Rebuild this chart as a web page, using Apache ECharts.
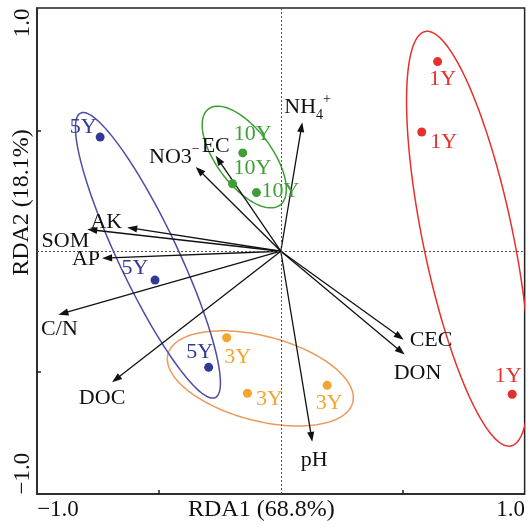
<!DOCTYPE html>
<html><head><meta charset="utf-8">
<script src="https://cdn.jsdelivr.net/npm/echarts@6/dist/echarts.min.js"></script>
<style>html,body{margin:0;padding:0;background:#fff}#c{width:528px;height:527px}</style>
</head><body><div id="c"></div>
<script>
// ---- data ----
const groupNames = ['1Y', '3Y', '5Y', '10Y'];
const x1Y = [0.643, 0.578, 0.949];
const y1Y = [0.789, 0.496, -0.595];
const x3Y = [-0.222, -0.137, 0.190];
const y3Y = [-0.360, -0.591, -0.558];
const x5Y = [-0.741, -0.516, -0.296];
const y5Y = [0.475, -0.120, -0.483];
const x10Y = [-0.156, -0.198, -0.100];
const y10Y = [0.409, 0.281, 0.244];

// confidence ellipses: centre x, centre y, semi-major, semi-minor, angle (deg)
const ellipseCx = [0.768, -0.084, -0.545, -0.150];
const ellipseCy = [0.052, -0.529, -0.017, 0.392];
const ellipseA = [0.880, 0.392, 0.653, 0.248];
const ellipseB = [0.185, 0.176, 0.122, 0.114];
const ellipseAngle = [-78.5, -15, -65, -54];

// environmental vectors
const envNames = ['NH4+', 'EC', 'NO3-', 'AK', 'SOM', 'AP', 'C/N', 'DOC', 'pH', 'CEC', 'DON'];
const envX = [0.088, -0.267, -0.349, -0.630, -0.794, -0.733, -0.912, -0.692, 0.129, 0.504, 0.508];
const envY = [0.537, 0.397, 0.351, 0.099, 0.091, -0.029, -0.264, -0.545, -0.793, -0.368, -0.430];

const axisTickValues = [-0.5, 0.5];
const axisLabelValues = [-1, 1];

// ---- styling (not data) ----
const FONT = '"Liberation Serif","Times New Roman",serif';
const groupColors = ['#e5302b', '#f3a530', '#2f3b96', '#3e9f35'];
const ellipseColors = ['#e5302b', '#ea9a5a', '#4d4da6', '#3e9f35'];
const pointLabelOffsets = [
  [[5, 18], [22, 10], [-4, -18]],
  [[11, 19], [22, 6], [2, 18]],
  [[-17, -10], [-20, -12], [-9, -15]],
  [[10, -19], [20, -15], [24, -1]]
];
const envLabelLayout = [
  [-18, -15, 'left'], [0, -10, 'center'], [4, -10, 'right'], [-5, -5, 'right'],
  [2, 12, 'right'], [-2, 1, 'right'], [1, 15, 'center'], [-10, 16, 'center'],
  [2, 18, 'center'], [6, 1, 'left'], [-11, 19, 'left']
];
const envRichText = {
  'NH4+': '{n|NH}{s|4}{p|+}',
  'NO3-': '{n|NO3}{p|\u2212}'
};

const groupX = [x1Y, x3Y, x5Y, x10Y];
const groupY = [y1Y, y3Y, y5Y, y10Y];

const scatterSeries = groupNames.map((g, gi) => ({
  type: 'scatter',
  name: g,
  z: 5,
  symbolSize: 9,
  itemStyle: { color: groupColors[gi], opacity: 1 },
  label: {
    show: true, position: 'inside', formatter: g,
    color: groupColors[gi], fontSize: 22, fontFamily: FONT
  },
  data: groupX[gi].map((x, i) => ({
    value: [x, groupY[gi][i]],
    label: { offset: pointLabelOffsets[gi][i] }
  })),
  markLine: gi === 0 ? {
    silent: true, symbol: 'none', label: { show: false },
    lineStyle: { type: [2, 2], color: '#555', width: 1 },
    data: [{ xAxis: 0 }, { yAxis: 0 }]
  } : undefined
}));

const ellipseData = ellipseCx.map((cx, i) => [cx, ellipseCy[i], ellipseA[i], ellipseB[i], ellipseAngle[i]]);

const ellipseSeries = {
  type: 'custom',
  z: 2,
  clip: true,
  data: ellipseData,
  encode: { x: 0, y: 1 },
  renderItem: function (params, api) {
    const i = params.dataIndex;
    const cx = api.value(0), cy = api.value(1), a = api.value(2), b = api.value(3);
    const th = api.value(4) * Math.PI / 180;
    const pts = [];
    for (let k = 0; k < 180; k++) {
      const t = k / 180 * Math.PI * 2;
      const ex = a * Math.cos(t), ey = b * Math.sin(t);
      pts.push(api.coord([cx + ex * Math.cos(th) - ey * Math.sin(th), cy + ex * Math.sin(th) + ey * Math.cos(th)]));
    }
    return {
      type: 'polygon',
      shape: { points: pts },
      style: { fill: 'none', stroke: ellipseColors[i], lineWidth: 1.5 }
    };
  }
};

const arrowSeries = {
  type: 'custom',
  z: 3,
  data: envX.map((x, i) => [x, envY[i]]),
  encode: { x: 0, y: 1 },
  renderItem: function (params, api) {
    const i = params.dataIndex;
    const o = api.coord([0, 0]);
    const t = api.coord([api.value(0), api.value(1)]);
    const dx = t[0] - o[0], dy = t[1] - o[1];
    const L = Math.hypot(dx, dy);
    const ux = dx / L, uy = dy / L;
    const hl = 10, hw = 3.6;
    const bx = t[0] - ux * hl, by = t[1] - uy * hl;
    const px = -uy, py = ux;
    const lay = envLabelLayout[i];
    const name = envNames[i];
    return {
      type: 'group',
      children: [
        { type: 'line', shape: { x1: o[0], y1: o[1], x2: bx + ux * 2, y2: by + uy * 2 },
          style: { stroke: '#111', lineWidth: 1.3 } },
        { type: 'polygon', shape: { points: [[t[0], t[1]], [bx + px * hw, by + py * hw], [bx - px * hw, by - py * hw]] },
          style: { fill: '#111' } },
        { type: 'text', z2: 10,
          style: {
            text: envRichText[name] || name,
            x: t[0] + lay[0], y: t[1] + lay[1],
            align: lay[2], verticalAlign: 'middle',
            fill: '#111', font: '22px ' + FONT,
            rich: {
              n: { fontSize: 22, fontFamily: FONT, fill: '#111', lineHeight: 30, verticalAlign: 'middle' },
              s: { fontSize: 14, fontFamily: FONT, fill: '#111', verticalAlign: 'bottom' },
              p: { fontSize: 14, fontFamily: FONT, fill: '#111', verticalAlign: 'top' }
            }
          } }
      ]
    };
  }
};

const axisLineStyle = { color: '#222', width: 1.5 };
const chart = echarts.init(document.getElementById('c'), null, { renderer: 'canvas' });
chart.setOption({
  animation: false,
  backgroundColor: '#fff',
  grid: { left: 37, right: 2, top: 8, bottom: 30, show: true, borderColor: '#222', borderWidth: 1.5 },
  xAxis: {
    type: 'value', min: -1, max: 1,
    name: 'RDA1 (68.8%)', nameLocation: 'middle', nameGap: 4, nameMoveOverlap: false,
    nameTextStyle: { fontFamily: FONT, fontSize: 24, color: '#111', verticalAlign: 'top', padding: [0, 39, 0, 0] },
    axisLine: { show: true, onZero: false, lineStyle: axisLineStyle },
    axisTick: { show: true, inside: true, length: 4, customValues: axisTickValues, lineStyle: axisLineStyle },
    axisLabel: {
      show: true, customValues: axisLabelValues, margin: 4, showMinLabel: true, showMaxLabel: true,
      formatter: v => v < 0 ? '{a|\u22121.0}' : '{b|1.0}',
      rich: {
        a: { fontFamily: FONT, fontSize: 23, color: '#111', padding: [0, 0, 0, 42] },
        b: { fontFamily: FONT, fontSize: 23, color: '#111', padding: [0, 28, 0, 0] }
      }
    },
    splitLine: { show: false }
  },
  yAxis: {
    type: 'value', min: -1.01, max: 1.012,
    name: 'RDA2 (18.1%)', nameLocation: 'middle', nameGap: 3, nameMoveOverlap: false,
    nameTextStyle: { fontFamily: FONT, fontSize: 24, color: '#111', padding: [0, 0, 0, 97] },
    axisLine: { show: true, onZero: false, lineStyle: axisLineStyle },
    axisTick: { show: true, inside: true, length: 4, customValues: axisTickValues, lineStyle: axisLineStyle },
    axisLabel: {
      show: true, customValues: axisLabelValues, margin: 3, rotate: 90, showMinLabel: true, showMaxLabel: true,
      formatter: v => v < 0 ? '{c|\u22121.0}' : '{d|1.0}',
      rich: {
        c: { fontFamily: FONT, fontSize: 23, color: '#111', padding: [0, 0, 0, 36] },
        d: { fontFamily: FONT, fontSize: 23, color: '#111', padding: [0, 24, 0, 0] }
      }
    },
    splitLine: { show: false }
  },
  series: [ellipseSeries, arrowSeries].concat(scatterSeries)
});
</script>
</body></html>
